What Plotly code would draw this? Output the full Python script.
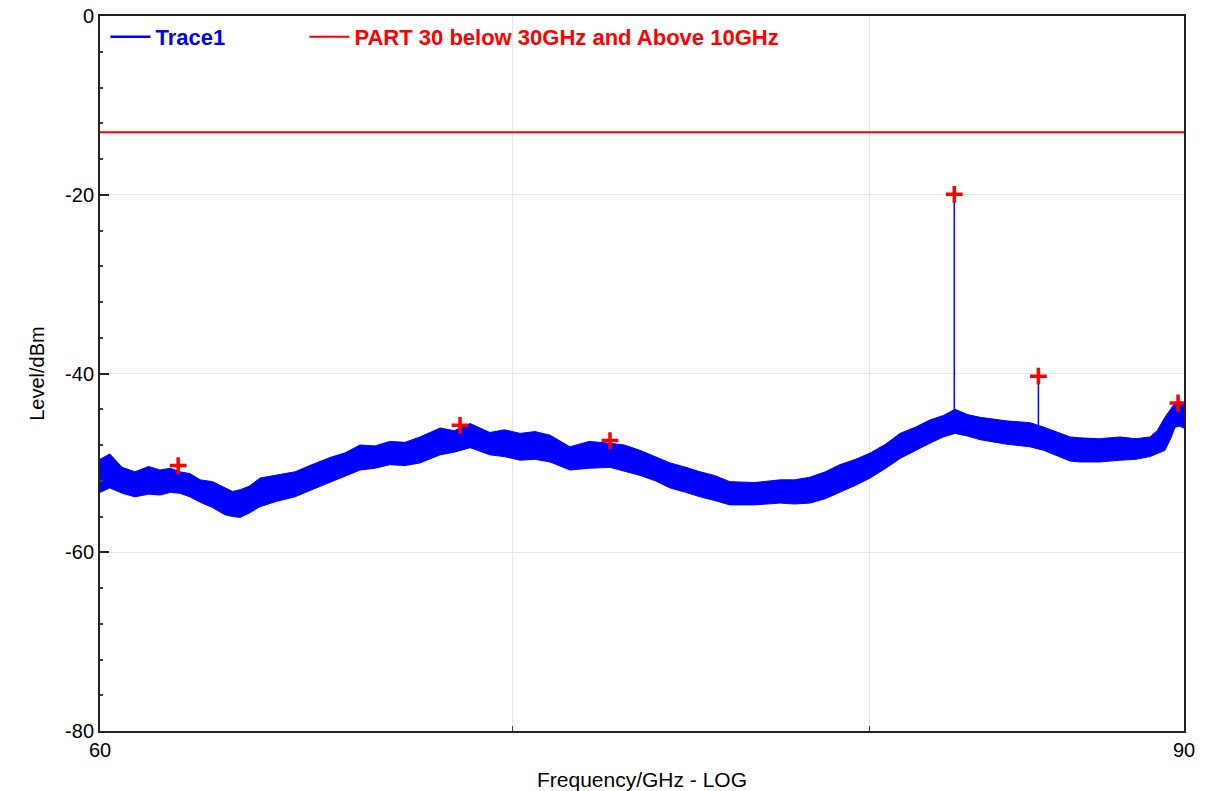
import math
import plotly.graph_objects as go

# ---- data ----
env_freq = [60.00, 60.22, 60.50, 60.79, 61.10, 61.36, 61.60, 61.82, 62.05, 62.29,
            62.58, 62.87, 63.05, 63.23, 63.45, 63.70, 64.10, 64.54, 64.95, 65.39,
            65.75, 66.13, 66.50, 66.87, 67.25, 67.63, 68.14, 68.50, 68.91, 69.42,
            69.80, 70.21, 70.60, 71.00, 71.53, 72.05, 72.61, 73.00, 73.43, 73.85,
            74.26, 74.70, 75.10, 75.50, 75.94, 76.65, 77.38, 77.80, 78.25, 78.70,
            79.13, 79.60, 80.03, 80.50, 80.93, 81.40, 81.84, 82.25, 82.61, 83.00,
            83.39, 84.20, 84.96, 85.40, 85.92, 86.25, 86.57, 87.20, 87.87, 88.40,
            88.86, 89.10, 89.36, 89.55, 89.70, 89.85, 90.00]
env_upper = [-49.6, -49.0, -50.5, -51.0, -50.4, -50.8, -50.6, -51.0, -51.2, -51.9,
             -52.1, -52.8, -53.2, -53.0, -52.6, -51.7, -51.4, -51.0, -50.2, -49.4,
             -48.9, -48.0, -48.1, -47.6, -47.7, -47.1, -46.1, -46.4, -45.6, -46.6,
             -46.3, -46.7, -46.5, -46.9, -48.2, -47.6, -47.8, -48.0, -48.6, -49.3,
             -50.0, -50.5, -51.0, -51.4, -52.1, -52.2, -51.9, -51.9, -51.6, -51.0,
             -50.2, -49.6, -48.9, -47.9, -46.7, -46.0, -45.2, -44.7, -44.0, -44.6,
             -44.9, -45.3, -45.5, -46.0, -46.7, -47.1, -47.2, -47.3, -47.1, -47.3,
             -47.1, -46.4, -44.9, -44.0, -43.3, -43.1, -43.5]
env_lower = [-53.3, -52.8, -53.4, -53.8, -53.5, -53.6, -53.3, -53.4, -53.8, -54.4,
             -55.0, -55.8, -56.0, -56.1, -55.6, -54.9, -54.3, -53.8, -53.0, -52.2,
             -51.5, -50.8, -50.6, -50.2, -50.3, -50.0, -49.1, -48.8, -48.3, -49.1,
             -49.3, -49.7, -49.6, -49.9, -50.8, -50.6, -50.5, -50.9, -51.4, -52.0,
             -52.8, -53.3, -53.8, -54.2, -54.7, -54.7, -54.5, -54.6, -54.5, -54.0,
             -53.3, -52.5, -51.7, -50.6, -49.5, -48.6, -47.8, -47.1, -46.7, -47.0,
             -47.4, -47.9, -48.2, -48.6, -49.3, -49.8, -49.9, -49.9, -49.7, -49.6,
             -49.3, -49.0, -48.6, -47.3, -46.0, -45.9, -46.1]

spike_freq = [82.59, 85.23]
spike_top = [-19.95, -40.3]
spike_base = [-44.5, -46.0]

peak_freq = [61.78, 68.65, 72.61, 82.59, 85.23, 89.80]
peak_level = [-50.3, -45.8, -47.5, -19.95, -40.3, -43.3]

limit_freq = [60, 90]
limit_level = [-13, -13]

x_ticks = [60, 90]
x_tick_text = ["60", "90"]
x_grid = [70, 80]
y_ticks = [0, -20, -40, -60, -80]
y_tick_text = ["0", "-20", "-40", "-60", "-80"]

BLUE = "#0000ff"
RED = "#ff0000"
FONT = "Liberation Sans, Arial, sans-serif"

fig = go.Figure()

# noise band of the trace
fig.add_trace(go.Scatter(x=env_freq, y=env_lower, mode="lines",
                         line=dict(color=BLUE, width=1), showlegend=False,
                         hoverinfo="skip"))
fig.add_trace(go.Scatter(x=env_freq, y=env_upper, mode="lines",
                         line=dict(color=BLUE, width=1), fill="tonexty",
                         fillcolor=BLUE, showlegend=False, hoverinfo="skip"))

# spikes
sx, sy = [], []
for f, t, b in zip(spike_freq, spike_top, spike_base):
    sx += [f, f, None]
    sy += [b, t, None]
fig.add_trace(go.Scatter(x=sx, y=sy, mode="lines", line=dict(color=BLUE, width=1.5),
                         showlegend=False, hoverinfo="skip"))

# legend entry for Trace1
fig.add_trace(go.Scatter(x=[None], y=[None], mode="lines",
                         line=dict(color=BLUE, width=2.5), legend="legend",
                         name='<b><span style="color:#0000ff">Trace1</span></b>'))

# limit line
fig.add_trace(go.Scatter(x=limit_freq, y=limit_level, mode="lines",
                         line=dict(color=RED, width=2), legend="legend2",
                         name='<b><span style="color:#ff0000">PART 30 below 30GHz and Above 10GHz</span></b>'))

# peak markers
fig.add_trace(go.Scatter(x=peak_freq, y=peak_level, mode="markers",
                         marker=dict(symbol="cross-thin", size=12,
                                     line=dict(color=RED, width=3.5)),
                         showlegend=False))

legend_common = dict(orientation="h", y=1.0, xanchor="left", yanchor="top",
                     bgcolor="rgba(0,0,0,0)", font=dict(family=FONT, size=22),
                     itemwidth=40)

fig.update_layout(
    width=1200, height=783,
    margin=dict(l=92, r=24, t=8, b=60),
    paper_bgcolor="white", plot_bgcolor="white",
    font=dict(family=FONT, size=20, color="black"),
    showlegend=True,
    legend=dict(x=0.005, **legend_common),
    legend2=dict(x=0.1886, **legend_common),
)

fig.update_xaxes(
    type="log", range=[math.log10(60), math.log10(90)],
    tickvals=x_ticks, ticktext=x_tick_text,
    ticks="inside", ticklen=0, showgrid=False,
    tickfont=dict(family=FONT, size=20), ticklabeloverflow="allow",
    minor=dict(tickvals=x_grid, ticks="inside", ticklen=5, tickcolor="#444",
               showgrid=True, gridcolor="#e6e6e6", gridwidth=1),
    showline=True, linecolor="#222", linewidth=2, mirror=True,
    automargin=False,
    title=dict(text="Frequency/GHz - LOG", font=dict(family=FONT, size=21)),
    zeroline=False,
)
fig.update_yaxes(
    range=[-80, 0], tickvals=y_ticks, ticktext=y_tick_text,
    ticks="inside", ticklen=9, tickwidth=1.5,
    tickcolor="#222", tickfont=dict(family=FONT, size=20), ticklabeloverflow="allow",
    showgrid=True, gridcolor="#e6e6e6", gridwidth=1,
    minor=dict(dtick=4, ticks="inside", ticklen=3, tickcolor="#444", showgrid=False),
    showline=True, linecolor="#222", linewidth=2, mirror=True,
    automargin=False,
    title=dict(text="Level/dBm", font=dict(family=FONT, size=20)),
    zeroline=False,
)

fig.write_html("out.html")
